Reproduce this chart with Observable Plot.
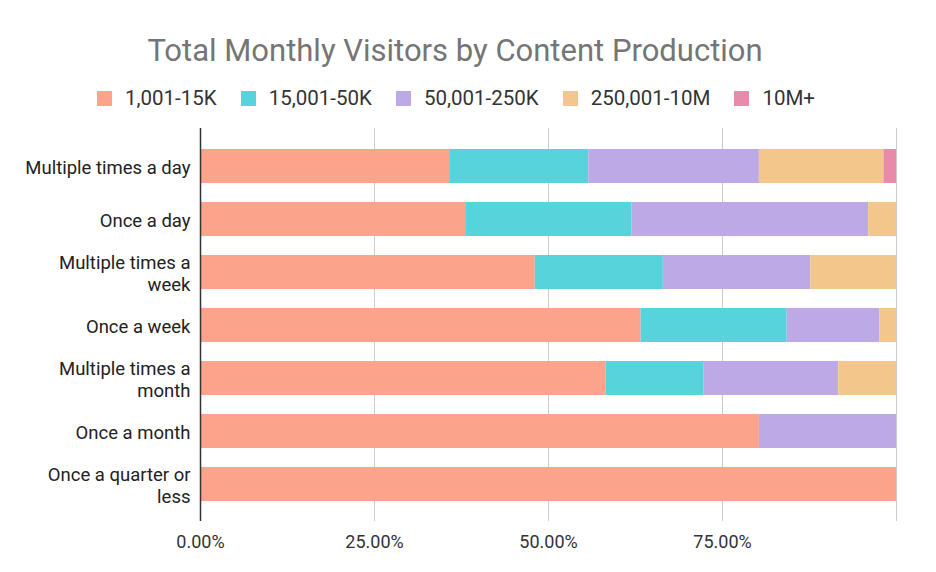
<!DOCTYPE html>
<html><head><meta charset="utf-8">
<script src="https://cdn.jsdelivr.net/npm/d3@7"></script>
<script src="https://cdn.jsdelivr.net/npm/@observablehq/plot@0.6"></script>
<style>
body{margin:0;background:#fff;font-family:Roboto,sans-serif;}
#wrap{position:relative;width:936px;height:572px;overflow:hidden;}
#title{position:absolute;left:0;width:910px;top:35px;text-align:center;font-size:31px;color:#757575;line-height:1;}
#legend{position:absolute;left:0;width:912px;top:88px;display:flex;justify-content:center;align-items:center;font-size:20.5px;color:#333;line-height:1;}
#legend .item{display:flex;align-items:center;margin:0 12px;}
#legend .sw{width:15px;height:15px;margin-right:13px;}
#chart{position:absolute;left:0;top:0;}
</style></head>
<body>
<div id="wrap">
  <div id="chart"></div>
  <div id="title"></div>
  <div id="legend"></div>
</div>
<script>
const titleText = "Total Monthly Visitors by Content Production";
const categories = ["Multiple times a day","Once a day","Multiple times a week","Once a week","Multiple times a month","Once a month","Once a quarter or less"];
const categoryLabels = ["Multiple times a day","Once a day","Multiple times a\nweek","Once a week","Multiple times a\nmonth","Once a month","Once a quarter or\nless"];
const seriesNames = ["1,001-15K","15,001-50K","50,001-250K","250,001-10M","10M+"];
const seriesColors = ["#fca38b","#57d3db","#bda9e5","#f3c68b","#e88bab"];
const visitors1kTo15k   = [0.358,0.381,0.481,0.633,0.583,0.803,1.000];
const visitors15kTo50k  = [0.200,0.239,0.184,0.210,0.140,0.000,0.000];
const visitors50kTo250k = [0.245,0.340,0.212,0.133,0.194,0.197,0.000];
const visitors250kTo10m = [0.179,0.040,0.123,0.024,0.083,0.000,0.000];
const visitors10mPlus   = [0.018,0.000,0.000,0.000,0.000,0.000,0.000];
const xTicks = [0, 0.25, 0.5, 0.75];
const gridTicks = [0.25, 0.5, 0.75, 1];

const seriesValues = [visitors1kTo15k, visitors15kTo50k, visitors50kTo250k, visitors250kTo10m, visitors10mPlus];
const data = categories.flatMap((c, i) => seriesNames.map((s, j) => ({category: c, series: s, value: seriesValues[j][i]})));

document.getElementById("title").textContent = titleText;
const legend = document.getElementById("legend");
seriesNames.forEach((s, j) => {
  const it = document.createElement("div"); it.className = "item";
  const sw = document.createElement("div"); sw.className = "sw"; sw.style.background = seriesColors[j];
  const tx = document.createElement("span"); tx.textContent = s;
  it.appendChild(sw); it.appendChild(tx); legend.appendChild(it);
});

const chart = Plot.plot({
  width: 936, height: 572,
  marginLeft: 200, marginRight: 40, marginTop: 128, marginBottom: 51,
  style: {fontFamily: "Roboto, sans-serif", background: "transparent"},
  x: {domain: [0, 1]},
  y: {domain: categories, padding: 0.36},
  color: {domain: seriesNames, range: seriesColors},
  marks: [
    Plot.ruleX(gridTicks, {stroke: "#cccccc", strokeWidth: 1, strokeOpacity: 1}),
    Plot.barX(data, {x: "value", y: "category", fill: "series"}),
    Plot.ruleX([0], {stroke: "#333333", strokeWidth: 1.5}),
    Plot.axisX({ticks: xTicks, tickFormat: d3.format(".2%"), tickSize: 0, tickPadding: 14, fontSize: 18, fill: "#333333", label: null}),
    Plot.axisY({tickSize: 0, tickPadding: 10, tickFormat: d => categoryLabels[categories.indexOf(d)], fontSize: 18.5, fill: "#222222", lineHeight: 1.2, label: null})
  ]
});
document.getElementById("chart").appendChild(chart);
</script>
</body></html>
